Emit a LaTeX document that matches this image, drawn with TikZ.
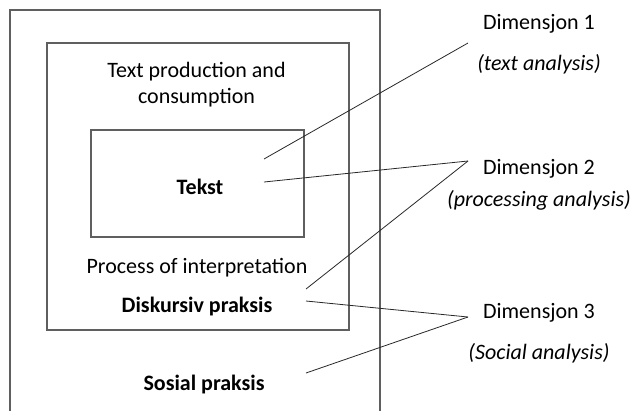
\documentclass[tikz,border=0pt]{standalone}
\usepackage{fontspec}
\setmainfont{Carlito}
\usetikzlibrary{positioning}
\definecolor{framegray}{RGB}{95,95,95}
\definecolor{linkgray}{RGB}{40,40,40}

\begin{document}
\begin{tikzpicture}[
    x=0.75pt, y=-0.75pt,
    every node/.style={font=\fontsize{16.5}{19.5}\selectfont, inner sep=0pt},
    frame/.style={draw=framegray, line width=1.4pt},
    label/.style={anchor=base, align=center},
    dimtext/.style={anchor=base},
    link/.style={draw=linkgray, line width=0.6pt}
]
\useasboundingbox (0,0) rectangle (631,411);
% outer frame, open at the bottom
\draw[frame] (10,411) -- (10,10) -- (380,10) -- (380,411);
\node[frame, minimum width=226.5pt, minimum height=215.25pt] (diskurs) at (198,186.5) {};
\node[frame, minimum width=159.75pt, minimum height=80.25pt] (tekstbox) at (197.5,183.5) {};

\node[label] (prod) at (196.5,103) {Text production and\\consumption};
\node[label] (tekst) at (200,194) {\textbf{Tekst}};
\node[label] (interp) at (197,273) {Process of interpretation};
\node[label] (praksis) at (197,312) {\textbf{Diskursiv praksis}};
\node[label] (sosial) at (204,390) {\textbf{Sosial praksis}};

\node[dimtext] (dim1) at (539,29) {Dimensjon 1};
\node[dimtext] (ana1) at (539,70) {\textit{(text analysis)}};
\node[dimtext] (dim2) at (539,174) {Dimensjon 2};
\node[dimtext] (ana2) at (539,206) {\textit{(processing analysis)}};
\node[dimtext] (dim3) at (539,318) {Dimensjon 3};
\node[dimtext] (ana3) at (539,359) {\textit{(Social analysis)}};

\coordinate (p1) at (468,43);
\coordinate (p2) at (468,161);
\coordinate (p3) at (468,317);
\coordinate (tekstA) at (264,159);
\coordinate (tekstB) at (264,182);
\coordinate (diskA) at (306,289);
\coordinate (diskB) at (306,301);
\coordinate (sosA) at (306,373);

\draw[link] (tekstA) -- (p1);
\draw[link] (tekstB) -- (p2);
\draw[link] (diskA) -- (p2);
\draw[link] (diskB) -- (p3);
\draw[link] (sosA) -- (p3);
\end{tikzpicture}
\end{document}
